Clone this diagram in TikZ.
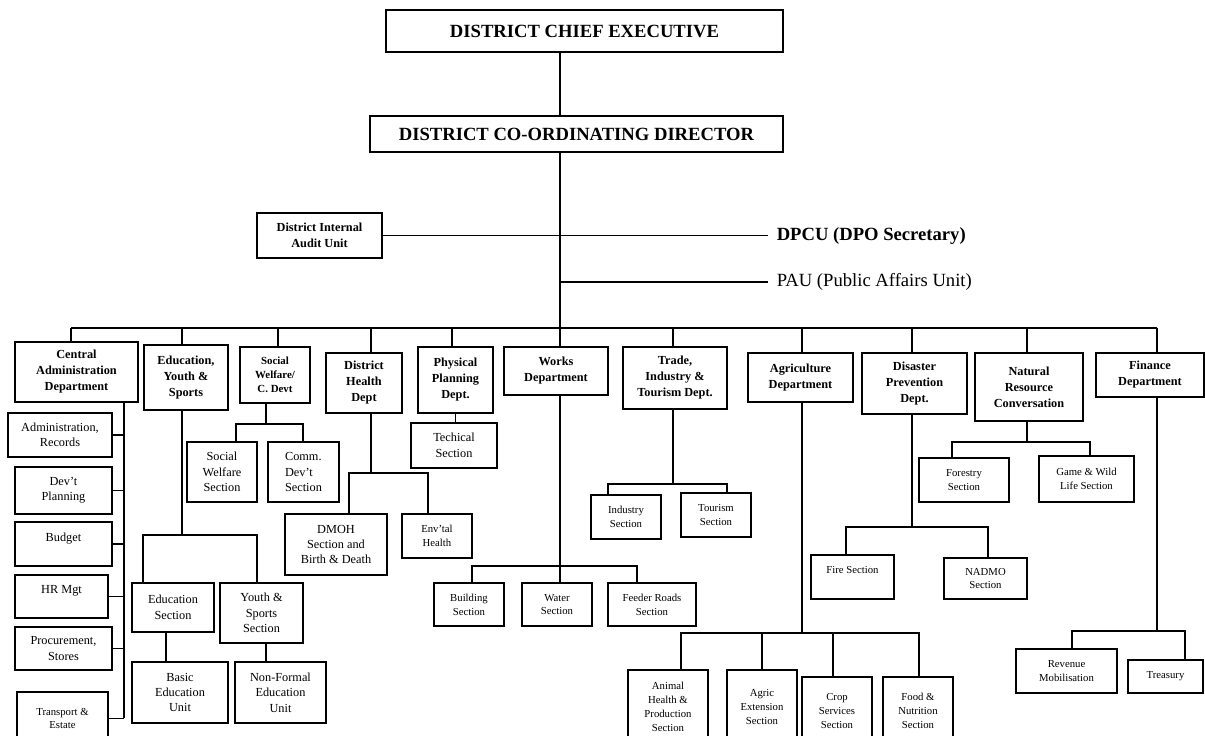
\documentclass[tikz,border=0pt]{standalone}
\usepackage{fontspec}
\setmainfont{Liberation Serif}
\usepackage{tikz}
\tikzset{
    chartnode/.style = {align=center, inner sep=1pt, text centered},
    box_size/.style 2 args = {minimum width=#1*0.02cm, minimum height=#2*0.02cm},
    head_node/.style = {chartnode, rectangle, draw=black, line width=0.8pt, font=\fontsize{10.6}{12.7}\selectfont\bfseries},
    dept_node/.style = {chartnode, rectangle, draw=black, line width=0.8pt, font=\fontsize{7}{9.1}\selectfont\bfseries},
    sec_node/.style = {chartnode, rectangle, draw=black, line width=0.8pt, font=\fontsize{7}{8.8}\selectfont},
    small_node/.style = {chartnode, rectangle, draw=black, line width=0.8pt, font=\fontsize{6.1}{7.9}\selectfont},
    top_text/.style = {text depth=8pt},
    unit_text/.style = {chartnode, anchor=west, inner sep=0pt, outer sep=5pt, font=\fontsize{10.6}{12.7}\selectfont}
}

\begin{document}
\begin{tikzpicture}
            [-, x=0.02cm, y=-0.02cm, line width=0.7pt]

            \useasboundingbox (0,0) rectangle (1205,736);

            \node [head_node, box_size={397}{42}] (dce) at (584.5,31) {DISTRICT CHIEF EXECUTIVE};
            \node [head_node, box_size={413}{36}] (dcd) at (576.5,134) {DISTRICT CO-ORDINATING DIRECTOR};
            \node [dept_node, box_size={125}{45}] (audit) at (319.5,235.5) {District Internal\\Audit Unit};
            \node [unit_text, font=\fontsize{10.6}{12.7}\selectfont\bfseries] (dpcu) at (768,236) {DPCU (DPO Secretary)};
            \node [unit_text] (pau) at (768,282) {PAU (Public Affairs Unit)};

            \coordinate (trunk) at (560,0);
            \coordinate (bus_l) at (71,328);
            \coordinate (bus_r) at (1157,328);

            \draw (dce.south -| trunk) -- (dcd.north -| trunk);
            \draw (dcd.south -| trunk) -- (trunk |- bus_l);
            \draw (audit.east) -- (audit.east -| dpcu.west);
            \draw (trunk |- pau.west) -- (pau.west);

            % departments
            \node [dept_node, box_size={123}{60}] (cad) at (76.5,372) {Central\\Administration\\Department};
            \node [dept_node, box_size={84}{65}] (eys) at (186,377.5) {Education,\\Youth \&\\Sports};
            \node [dept_node, box_size={70}{56}, font=\fontsize{6.2}{7.9}\selectfont\bfseries] (swcd) at (275,375) {Social\\Welfare/\\C. Devt};
            \node [dept_node, box_size={76}{60}] (dhd) at (364,383) {District\\Health\\Dept};
            \node [dept_node, box_size={75}{66}] (ppd) at (455.5,380) {Physical\\Planning\\Dept.};
            \node [dept_node, box_size={104}{48}] (works) at (556,371) {Works\\Department};
            \node [dept_node, box_size={104}{62}] (titd) at (675,378) {Trade,\\Industry \&\\Tourism Dept.};
            \node [dept_node, box_size={105}{49}] (agric) at (800.5,377.5) {Agriculture\\Department};
            \node [dept_node, box_size={105}{61}] (dpd) at (914.5,383.5) {Disaster\\Prevention\\Dept.};
            \node [dept_node, box_size={108}{68}] (nrc) at (1029,387) {Natural\\Resource\\Conversation};
            \node [dept_node, box_size={108}{44}] (fin) at (1150,375) {Finance\\Department};

            \coordinate (eys_in) at (182,328);
            \coordinate (swcd_in) at (278,328);
            \coordinate (dhd_in) at (371,328);
            \coordinate (ppd_in) at (452,328);
            \coordinate (titd_in) at (673,328);
            \coordinate (agric_in) at (802,328);
            \coordinate (dpd_in) at (912,328);
            \coordinate (nrc_in) at (1027,328);

            \draw (bus_l) -- (bus_r);
            \draw (bus_l) -- (bus_l |- cad.north);
            \draw (eys_in) -- (eys_in |- eys.north);
            \draw (swcd_in) -- (swcd_in |- swcd.north);
            \draw (dhd_in) -- (dhd_in |- dhd.north);
            \draw (ppd_in) -- (ppd_in |- ppd.north);
            \draw (trunk |- bus_l) -- (trunk |- works.north);
            \draw (titd_in) -- (titd_in |- titd.north);
            \draw (agric_in) -- (agric_in |- agric.north);
            \draw (dpd_in) -- (dpd_in |- dpd.north);
            \draw (nrc_in) -- (nrc_in |- nrc.north);
            \draw (bus_r) -- (bus_r |- fin.north);

            % central administration
            \node [sec_node, box_size={104}{44}] (adrec) at (60,435) {Administration,\\Records};
            \node [sec_node, box_size={97}{47}] (devpl) at (63.5,490.5) {Dev't\\Planning};
            \node [sec_node, top_text, box_size={97}{44}] (budget) at (63.5,544) {Budget};
            \node [sec_node, top_text, box_size={93}{43}] (hrmgt) at (61.5,596.5) {HR Mgt};
            \node [sec_node, box_size={97}{43}] (procure) at (63.5,648.5) {Procurement,\\Stores};
            \node [small_node, box_size={91}{53}] (transp) at (62.5,718.5) {Transport \&\\Estate};

            \coordinate (cad_col) at (124,0);
            \draw (cad.south -| cad_col) -- (cad_col |- transp.east);
            \draw (adrec.east) -- (adrec.east -| cad_col);
            \draw (devpl.east) -- (devpl.east -| cad_col);
            \draw (budget.east) -- (budget.east -| cad_col);
            \draw (hrmgt.east) -- (hrmgt.east -| cad_col);
            \draw (procure.east) -- (procure.east -| cad_col);
            \draw (transp.east) -- (transp.east -| cad_col);

            % education, youth and sports
            \node [sec_node, box_size={82}{49}] (edsec) at (173,607.5) {Education\\Section};
            \node [sec_node, box_size={83}{60}] (yssec) at (261.5,613) {Youth \&\\Sports\\Section};
            \node [sec_node, box_size={96}{61}] (basic) at (180,692.5) {Basic\\Education\\Unit};
            \node [sec_node, box_size={91}{61}] (nonformal) at (280.5,692.5) {Non-Formal\\Education\\Unit};

            \coordinate (ed_in) at (182,535);
            \coordinate (ed_l) at (143,535);
            \coordinate (ed_r) at (257,535);
            \coordinate (basic_in) at (166,0);
            \coordinate (nonf_in) at (266,0);
            \draw (eys.south -| ed_in) -- (ed_in);
            \draw (ed_l |- edsec.north) -- (ed_l) -- (ed_r) -- (ed_r |- yssec.north);
            \draw (edsec.south -| basic_in) -- (basic_in |- basic.north);
            \draw (yssec.south -| nonf_in) -- (nonf_in |- nonformal.north);

            % social welfare
            \node [sec_node, box_size={70}{60}] (swsec) at (222,472) {Social\\Welfare\\Section};
            \node [sec_node, box_size={71}{60}, align=left] (commsec) at (303.5,472) {Comm.\\Dev't\\Section};

            \coordinate (sw_in) at (266,424);
            \coordinate (sw_l) at (236,424);
            \coordinate (sw_r) at (303,424);
            \draw (swcd.south -| sw_in) -- (sw_in);
            \draw (sw_l |- swsec.north) -- (sw_l) -- (sw_r) -- (sw_r |- commsec.north);

            % district health
            \node [sec_node, box_size={102}{61}] (dmoh) at (336,544.5) {DMOH\\Section and\\Birth \& Death};
            \node [small_node, box_size={70}{44}] (envh) at (437,536) {Env'tal\\Health};

            \coordinate (dh_in) at (371,473);
            \coordinate (dh_l) at (349,473);
            \coordinate (dh_r) at (428,473);
            \draw (dhd.south -| dh_in) -- (dh_in);
            \draw (dh_l |- dmoh.north) -- (dh_l) -- (dh_r) -- (dh_r |- envh.north);

            % physical planning
            \node [sec_node, box_size={86}{45}] (techsec) at (454,445.5) {Techical\\Section};
            \draw (ppd.south) -- (ppd.south |- techsec.north);

            % works
            \node [small_node, box_size={70}{43}] (bldg) at (469,604.5) {Building\\Section};
            \node [small_node, box_size={70}{43}] (water) at (557,604.5) {Water\\Section};
            \node [small_node, box_size={88}{43}] (feeder) at (652,604.5) {Feeder Roads\\Section};

            \coordinate (wk_l) at (472,566);
            \coordinate (wk_r) at (637,566);
            \draw (works.south -| trunk) -- (trunk |- water.north);
            \draw (wk_l |- bldg.north) -- (wk_l) -- (wk_r) -- (wk_r |- feeder.north);

            % trade, industry and tourism
            \node [small_node, box_size={70}{44}] (indsec) at (626,517) {Industry\\Section};
            \node [small_node, box_size={70}{44}] (toursec) at (716,515) {Tourism\\Section};

            \coordinate (tr_in) at (673,484);
            \coordinate (tr_l) at (608,484);
            \coordinate (tr_r) at (727,484);
            \draw (titd.south -| tr_in) -- (tr_in);
            \draw (tr_l |- indsec.north) -- (tr_l) -- (tr_r) -- (tr_r |- toursec.north);

            % agriculture
            \node [small_node, box_size={80}{74}] (animal) at (668,707) {Animal\\Health \&\\Production\\Section};
            \node [small_node, box_size={70}{74}] (agrext) at (762,707) {Agric\\Extension\\Section};
            \node [small_node, box_size={70}{68}] (crop) at (837,711) {Crop\\Services\\Section};
            \node [small_node, box_size={70}{68}] (food) at (918,711) {Food \&\\Nutrition\\Section};

            \coordinate (ag_in) at (802,633);
            \coordinate (ag_l) at (681,633);
            \coordinate (ag_2) at (762,633);
            \coordinate (ag_3) at (833,633);
            \coordinate (ag_r) at (919,633);
            \draw (agric.south -| ag_in) -- (ag_in);
            \draw (ag_l |- animal.north) -- (ag_l) -- (ag_r) -- (ag_r |- food.north);
            \draw (ag_2) -- (ag_2 |- agrext.north);
            \draw (ag_3) -- (ag_3 |- crop.north);

            % disaster prevention
            \node [small_node, top_text, box_size={83}{44}] (fire) at (852.5,577) {Fire Section};
            \node [small_node, box_size={83}{41}] (nadmo) at (985.5,578.5) {NADMO\\Section};

            \coordinate (dp_in) at (912,527);
            \coordinate (dp_l) at (846,527);
            \coordinate (dp_r) at (988,527);
            \draw (dpd.south -| dp_in) -- (dp_in);
            \draw (dp_l |- fire.north) -- (dp_l) -- (dp_r) -- (dp_r |- nadmo.north);

            % natural resource
            \node [small_node, box_size={90}{44}] (forestry) at (964,480) {Forestry\\Section};
            \node [small_node, box_size={95}{46}] (game) at (1086.5,479) {Game \& Wild\\Life Section};

            \coordinate (nr_in) at (1027,442);
            \coordinate (nr_l) at (952,442);
            \coordinate (nr_r) at (1090,442);
            \draw (nrc.south -| nr_in) -- (nr_in);
            \draw (nr_l |- forestry.north) -- (nr_l) -- (nr_r) -- (nr_r |- game.north);

            % finance
            \node [small_node, box_size={101}{44}] (revenue) at (1066.5,671) {Revenue\\Mobilisation};
            \node [small_node, box_size={75}{33}] (treasury) at (1165.5,676.5) {Treasury};

            \coordinate (fn_in) at (1157,631);
            \coordinate (fn_l) at (1072,631);
            \coordinate (fn_r) at (1185,631);
            \draw (fin.south -| fn_in) -- (fn_in);
            \draw (fn_l |- revenue.north) -- (fn_l) -- (fn_r) -- (fn_r |- treasury.north);
        \end{tikzpicture}
\end{document}
